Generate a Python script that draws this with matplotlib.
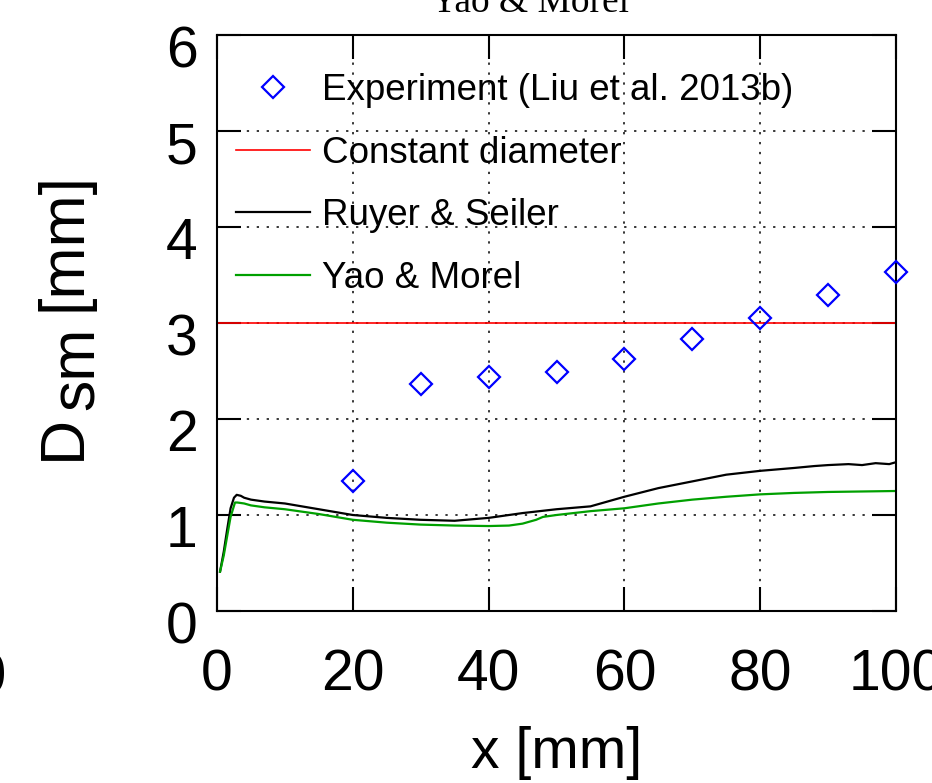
import matplotlib
matplotlib.use("Agg")
from matplotlib import pyplot as plt
from matplotlib.transforms import ScaledTranslation

# experiment (Liu et al. 2013b)
exp_x = [20, 30, 40, 50, 60, 70, 80, 90, 100]
exp_y = [1.35, 2.36, 2.44, 2.49, 2.62, 2.83, 3.05, 3.29, 3.53]

# constant diameter
const_x = [0, 100]
const_y = [3.0, 3.0]

# Ruyer & Seiler
rs_x = [0.45, 1.0, 1.5, 2.0, 2.5, 2.9, 3.5, 4, 5, 7, 10, 15, 20, 25, 30, 35, 40, 45, 50,
        55, 60, 65, 70, 75, 80, 85, 88, 90, 93, 95, 97, 99, 100]
rs_y = [0.41, 0.62, 0.85, 1.07, 1.18, 1.21, 1.20, 1.18, 1.16, 1.14, 1.12, 1.06, 1.00,
        0.97, 0.95, 0.94, 0.97, 1.02, 1.06, 1.09, 1.19, 1.28, 1.35, 1.42, 1.46, 1.49,
        1.51, 1.52, 1.53, 1.52, 1.54, 1.53, 1.55]

# Yao & Morel
ym_x = [0.45, 1.0, 1.5, 2.0, 2.65, 3.0, 4, 5, 7, 10, 15, 20, 25, 30, 35, 40, 43, 45,
        47, 48, 50, 55, 60, 65, 70, 75, 80, 85, 90, 95, 100]
ym_y = [0.41, 0.58, 0.78, 0.98, 1.13, 1.13, 1.12, 1.10, 1.08, 1.06, 1.01, 0.95, 0.92,
        0.90, 0.89, 0.885, 0.89, 0.91, 0.95, 0.98, 1.00, 1.04, 1.07, 1.12, 1.16, 1.19,
        1.215, 1.23, 1.24, 1.245, 1.25]

xticks = [0, 20, 40, 60, 80, 100]
yticks = [0, 1, 2, 3, 4, 5, 6]

plt.rcParams["font.family"] = ["Liberation Sans", "DejaVu Sans"]

fig = plt.figure(figsize=(9.32, 7.83), dpi=100)
ax = fig.add_axes([217 / 932, 1 - 611 / 783, 679 / 932, 576 / 783])

ax.plot(exp_x, exp_y, linestyle="none", marker="D", markersize=11,
        markerfacecolor="none", markeredgecolor="#0000ff", markeredgewidth=1.6,
        clip_on=False, zorder=5, label="Experiment (Liu et al. 2013b)")
ax.plot(const_x, const_y, color="#ff0000", lw=1.2, label="Constant diameter")
ax.plot(rs_x, rs_y, color="black", lw=1.6, label="Ruyer & Seiler")
ax.plot(ym_x, ym_y, color="#00a000", lw=1.6, label="Yao & Morel")

ax.set_xlim(0, 100)
ax.set_ylim(0, 6)
ax.set_xticks(xticks)
ax.set_yticks(yticks)
ax.grid(True, color="black", lw=1.1, linestyle=(0, (1.5, 5)))

for s in ax.spines.values():
    s.set_linewidth(1.5)
ax.tick_params(direction="in", length=17, width=1.5, top=True, right=True,
               labelsize=41)
ax.tick_params(axis="x", pad=27)
ax.tick_params(axis="y", pad=14)

# gnuplot puts the y labels a bit below the tick
off = ScaledTranslation(0, -11 / 100, fig.dpi_scale_trans)
for lab in ax.get_yticklabels():
    lab.set_transform(lab.get_transform() + off)

ax.set_xlabel("x [mm]", fontsize=41)
ax.xaxis.set_label_coords(0.5, -0.2)

# y label: gnuplot style subscript, same size, just lowered
ylab = dict(rotation=90, rotation_mode="anchor", ha="left", va="baseline",
            fontsize=45)
fig.text(80 / 932, 1 - 460 / 783, "D", **ylab)
fig.text(94 / 932, 1 - 410 / 783, "sm", **ylab)
fig.text(80 / 932, 1 - 311 / 783, "[mm]", **ylab)

ax.legend(loc="upper left", bbox_to_anchor=(0.028, 0.934), frameon=False,
          fontsize=26.5, handlelength=2.0, handletextpad=0.33, labelspacing=0.75,
          borderpad=0, borderaxespad=0, numpoints=1)

# pieces cut off by the crop of the original figure
fig.text(530 / 932, 1 - 12 / 783, "Yao & Morel", family="Liberation Serif",
         fontsize=27, ha="center", va="baseline")
fig.text(7 / 932, 1 - 693 / 783, "100", fontsize=41, ha="right", va="baseline")

fig.savefig("out.png", dpi=100)
